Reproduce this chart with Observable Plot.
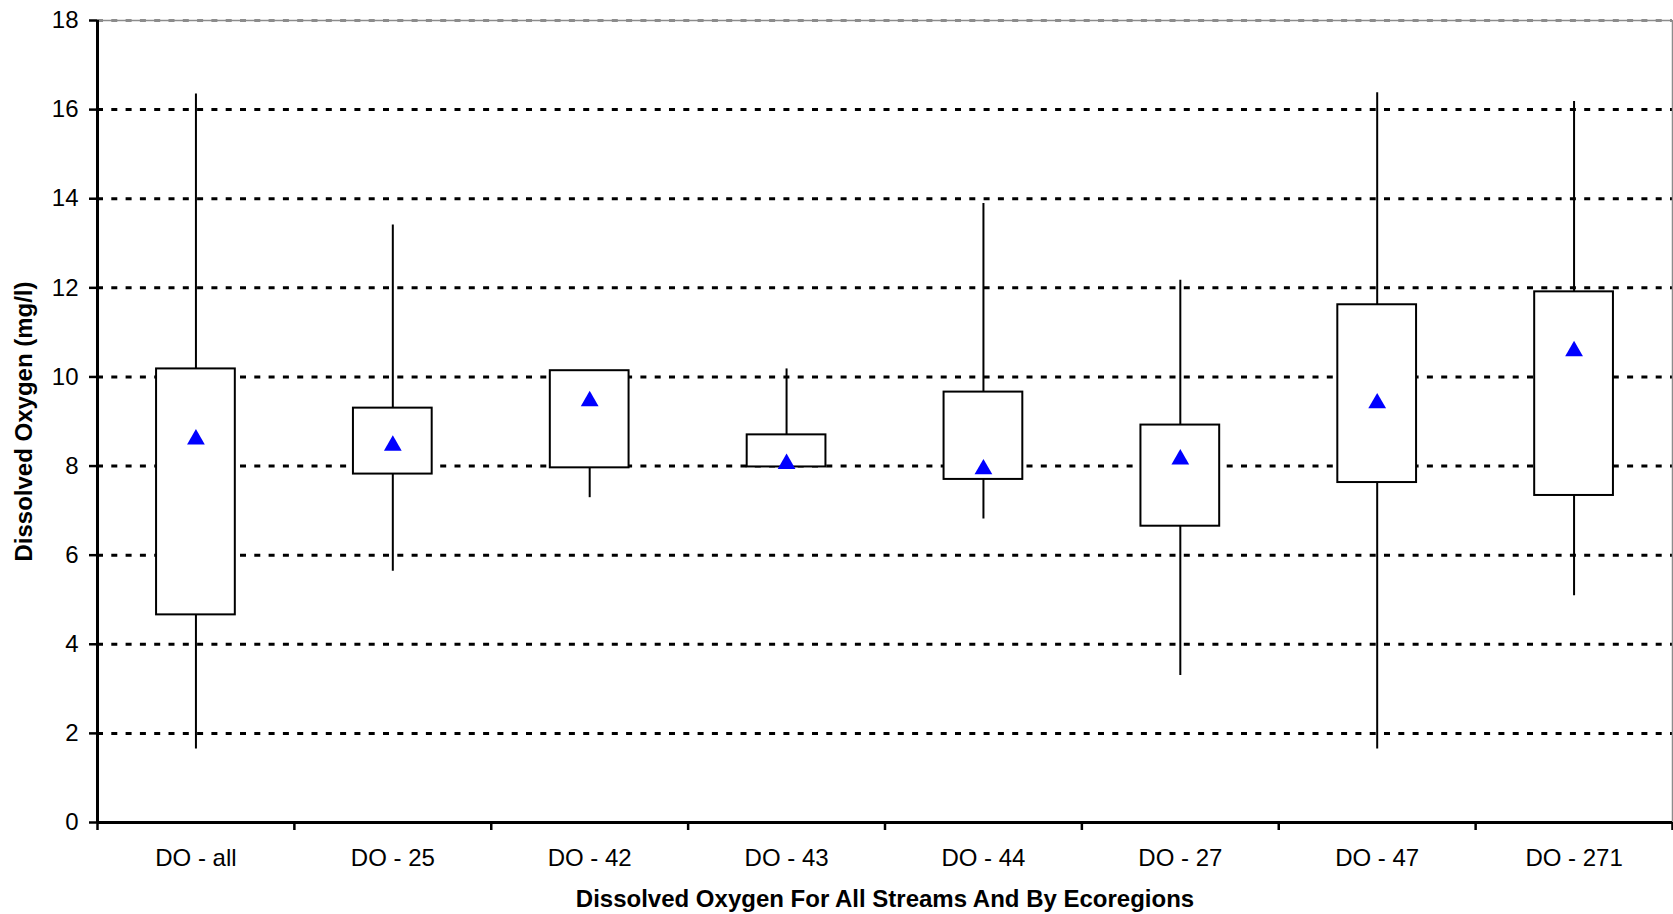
<!DOCTYPE html>
<html>
<head>
<meta charset="utf-8">
<script src="https://cdn.jsdelivr.net/npm/d3@7"></script>
<script src="https://cdn.jsdelivr.net/npm/@observablehq/plot@0.6"></script>
<style>
  html, body { margin: 0; padding: 0; background: #fff; }
  svg { display: block; }
</style>
</head>
<body>
<div id="chart"></div>
<script>
const categories = ["DO - all","DO - 25","DO - 42","DO - 43","DO - 44","DO - 27","DO - 47","DO - 271"];
const maxs  = [16.35, 13.41, 10.14, 10.18, 13.89, 12.17, 16.38, 16.18];
const q3s   = [10.18,  9.30, 10.14,  8.70,  9.66,  8.92, 11.62, 11.91];
const q1s   = [ 4.66,  7.82,  7.96,  7.98,  7.70,  6.65,  7.63,  7.34];
const mins  = [ 1.65,  5.64,  7.29,  7.98,  6.81,  3.30,  1.65,  5.09];
const means = [ 8.60,  8.46,  9.46,  8.05,  7.93,  8.15,  9.41, 10.58];
const yTicks = [0, 2, 4, 6, 8, 10, 12, 14, 16, 18];
const xTitle = "Dissolved Oxygen For All Streams And By Ecoregions";
const yTitle = "Dissolved Oxygen (mg/l)";

const data = categories.map((c, i) => ({
  cat: c, i, max: maxs[i], q3: q3s[i], q1: q1s[i], min: mins[i], mean: means[i]
}));

const font = "'Liberation Sans', Arial, sans-serif";

const chart = Plot.plot({
  width: 1673,
  height: 914,
  marginLeft: 97,
  marginRight: 1,
  marginTop: 20,
  marginBottom: 92,
  style: { fontFamily: font, fontSize: "24px", color: "#000", background: "#fff" },
  x: { domain: [0, categories.length], axis: null },
  y: { domain: [0, 18], axis: null },
  marks: [
    // gridlines
    Plot.ruleY(yTicks.filter(d => d > 0 && d < 18), { stroke: "#000", strokeWidth: 3, strokeDasharray: "6,8.3" }),
    Plot.ruleY([18], { stroke: "#8c8c8c", strokeWidth: 1.5 }),
    Plot.ruleY([18], { stroke: "#8c8c8c", strokeWidth: 3, strokeDasharray: "6,8.3" }),
    Plot.ruleX([categories.length], { stroke: "#8c8c8c", strokeWidth: 1.5 }),
    // whiskers
    Plot.ruleX(data, { x: d => d.i + 0.5, y1: "min", y2: "max", stroke: "#000", strokeWidth: 2 }),
    // boxes
    Plot.rectY(data, { x1: d => d.i + 0.3, x2: d => d.i + 0.7, y1: "q1", y2: "q3", fill: "#fff", stroke: "#000", strokeWidth: 2 }),
    // means
    Plot.dot(data, { x: d => d.i + 0.5, y: "mean", symbol: "triangle", r: 6.6, fill: "#0000ff", stroke: "none" }),
    // axes lines
    Plot.ruleX([0], { stroke: "#000", strokeWidth: 3 }),
    Plot.ruleY([0], { stroke: "#000", strokeWidth: 3 }),
    Plot.axisY({ ticks: yTicks, tickSize: 8, tickPadding: 11, tickFormat: d => String(d), fontSize: 24, strokeWidth: 2.5, label: null }),
    Plot.axisX({ ticks: d3.range(0, categories.length + 1), tickSize: 8, tickFormat: () => "", strokeWidth: 2.5, label: null }),
    Plot.axisX({ ticks: categories.map((c, i) => i + 0.5), tickSize: 0, tickPadding: 26, tickFormat: v => categories[Math.floor(v)], fontSize: 24, label: null }),
    // titles
    Plot.text([xTitle], { frameAnchor: "bottom", dy: 84, fontWeight: "bold", fontSize: 24, text: d => d }),
    Plot.text([yTitle], { frameAnchor: "left", dx: -73, rotate: -90, textAnchor: "middle", fontWeight: "bold", fontSize: 24, text: d => d })
  ]
});
document.getElementById("chart").appendChild(chart);
</script>
</body>
</html>
